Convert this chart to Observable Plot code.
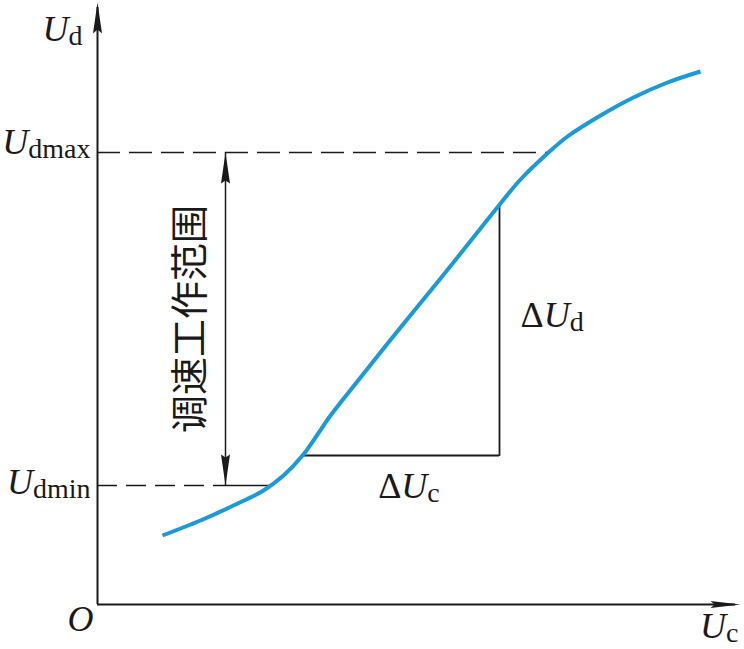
<!DOCTYPE html>
<html><head><meta charset="utf-8">
<script src="https://cdn.jsdelivr.net/npm/d3@7"></script>
<script src="https://cdn.jsdelivr.net/npm/@observablehq/plot@0.6"></script>
<style>body{margin:0;background:#fff}</style>
</head><body><div id="chart"></div>
<script>
// characteristic curve Ud = f(Uc) (arbitrary units)
const curveX = [65,103,136,166,186,205,220,233,263,303,343,383,403,423,451,470,503,536,570,603];
const curveY = [69,84,99,114,129,149,170,189,227,277,326,376,401,425,452,468,489,507,522,533];
// levels and construction values
const uDmax = 452;
const uDmin = 119;
const rangeX = 128;          // position of the "working range" double arrow
const deltaLowY = 149;       // lower leg of the ΔUc / ΔUd triangle
const deltaRightX = 402;     // right leg of the triangle
const xAxisEnd = 643;
const yAxisEnd = 602;
// text
const axisLabels = ["U_d", "U_c", "O"];
const levelLabels = ["U_dmax", "U_dmin"];
const deltaLabels = ["ΔU_c", "ΔU_d"];
const rangeLabel = "调速工作范围";

const curve = curveX.map((x, i) => ({x, y: curveY[i]}));
function crossAtY(level) {
  for (let i = 1; i < curve.length; i++) {
    const a = curve[i-1], b = curve[i];
    if (level >= a.y && level <= b.y) return a.x + (b.x - a.x) * (level - a.y) / (b.y - a.y);
  }
  return curve[curve.length-1].x;
}
function valueAtX(x0) {
  for (let i = 1; i < curve.length; i++) {
    const a = curve[i-1], b = curve[i];
    if (x0 >= a.x && x0 <= b.x) return a.y + (b.y - a.y) * (x0 - a.x) / (b.x - a.x);
  }
  return curve[curve.length-1].y;
}
const xAtMax = crossAtY(uDmax);
const xAtMin = crossAtY(uDmin);
const deltaLeftX = crossAtY(deltaLowY);
const deltaTopY = valueAtX(deltaRightX);

const ink = "#1a1a1a";
const blue = "#1a9bd7";
function head(half, len, notch) {
  return {draw(ctx) {
    ctx.moveTo(0, 0); ctx.lineTo(-half, len); ctx.lineTo(0, len - notch); ctx.lineTo(half, len); ctx.closePath();
  }};
}
const headY = head(4.5, 31, 4);
const headX = head(3.5, 30, 4);
const headR = head(4.5, 31, 3);

const plot = Plot.plot({
  width: 744, height: 649, margin: 0,
  x: {domain: [-97, 647], axis: null},
  y: {domain: [-45, 604], axis: null},
  style: {fontFamily: "'Liberation Serif', 'Times New Roman', serif", background: "#fff", color: ink},
  marks: [
    // axes
    Plot.ruleY([0], {x1: 0, x2: xAxisEnd - 5, stroke: ink, strokeWidth: 2}),
    Plot.ruleX([0], {y1: 0, y2: yAxisEnd - 5, stroke: ink, strokeWidth: 2}),
    Plot.dot([xAxisEnd], {x: d => d, y: 0, symbol: headX, rotate: 90, fill: ink, stroke: null, r: 5}),
    Plot.dot([yAxisEnd], {x: 0, y: d => d, symbol: headY, rotate: 0, fill: ink, stroke: null, r: 5}),
    // level lines
    Plot.ruleY([uDmax], {x1: 0, x2: xAtMax, stroke: ink, strokeWidth: 1.6, strokeDasharray: "23,9"}),
    Plot.ruleY([uDmin], {x1: 0, x2: rangeX - 2, stroke: ink, strokeWidth: 1.6, strokeDasharray: "20,9"}),
    Plot.ruleY([uDmin], {x1: rangeX - 2, x2: xAtMin, stroke: ink, strokeWidth: 1.6}),
    // working range double arrow
    Plot.ruleX([rangeX], {y1: uDmin, y2: uDmax, stroke: ink, strokeWidth: 1.5}),
    Plot.dot([uDmax], {x: rangeX, y: d => d, symbol: headR, rotate: 0, fill: ink, stroke: null, r: 5}),
    Plot.dot([uDmin], {x: rangeX, y: d => d, symbol: headR, rotate: 180, fill: ink, stroke: null, r: 5}),
    // triangle
    Plot.ruleY([deltaLowY], {x1: deltaLeftX, x2: deltaRightX, stroke: ink, strokeWidth: 1.8}),
    Plot.ruleX([deltaRightX], {y1: deltaLowY - 0.9, y2: deltaTopY, stroke: ink, strokeWidth: 1.8}),
    // curve
    Plot.line(curve, {x: "x", y: "y", stroke: blue, strokeWidth: 4, curve: "catmull-rom", strokeLinecap: "butt"}),
    // labels
    Plot.text([axisLabels[0]], {x: 0, y: yAxisEnd, textAnchor: "end", lineAnchor: "bottom", dx: -15, dy: 38, fontSize: 36}),
    Plot.text([axisLabels[1]], {x: xAxisEnd, y: 0, textAnchor: "end", lineAnchor: "bottom", dx: -2, dy: 33, fontSize: 36}),
    Plot.text([axisLabels[2]], {x: 0, y: 0, textAnchor: "end", lineAnchor: "bottom", dx: -4, dy: 26, fontSize: 36}),
    Plot.text([levelLabels[0]], {x: 0, y: uDmax, textAnchor: "end", lineAnchor: "bottom", dx: -7, dy: 1, fontSize: 36}),
    Plot.text([levelLabels[1]], {x: 0, y: uDmin, textAnchor: "end", lineAnchor: "bottom", dx: -7, dy: 8, fontSize: 36}),
    Plot.text([deltaLabels[0]], {x: (deltaLeftX + deltaRightX) / 2, y: deltaLowY, textAnchor: "middle", lineAnchor: "bottom", dx: 8, dy: 42, fontSize: 36}),
    Plot.text([deltaLabels[1]], {x: deltaRightX, y: (deltaLowY + deltaTopY) / 2, textAnchor: "start", lineAnchor: "bottom", dx: 21, dy: -3, fontSize: 36}),
    Plot.text([rangeLabel], {x: rangeX, y: (uDmin + uDmax) / 2, rotate: -90, dx: -35, fontSize: 38, fontFamily: "'Noto Sans CJK SC', sans-serif", lineAnchor: "middle", textAnchor: "middle"})
  ]
});

d3.select(plot).selectAll("text").each(function() {
  const s = this.textContent;
  if (!/[UO]/.test(s)) return;
  const [main, sub] = s.split("_");
  const el = d3.select(this);
  el.text(null);
  for (const ch of main) el.append("tspan").attr("font-style", /[UO]/.test(ch) ? "italic" : null).text(ch);
  if (sub) el.append("tspan").attr("font-size", 28).attr("dy", 4).text(sub);
});

document.getElementById("chart").appendChild(plot);
</script>
</body></html>
